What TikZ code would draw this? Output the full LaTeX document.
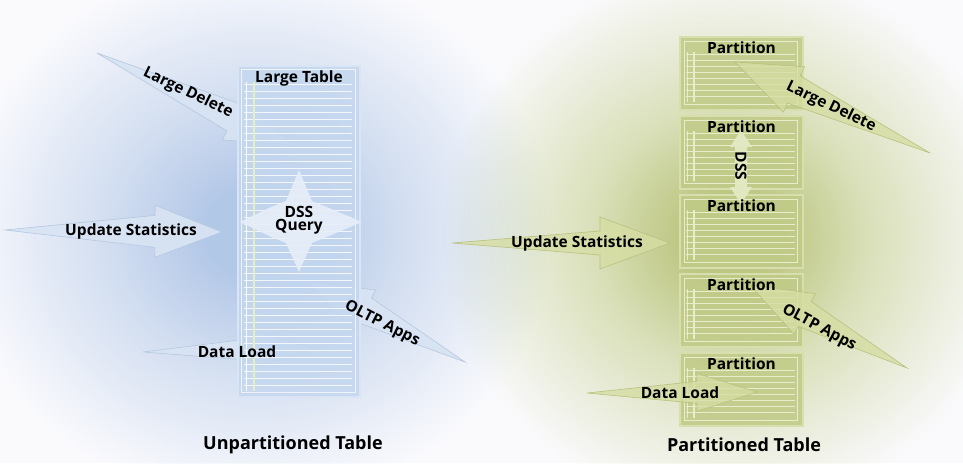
\documentclass[tikz,border=0pt]{standalone}
\usepackage{fontspec}
\setmainfont{Open Sans}
\usetikzlibrary{calc}
\definecolor{gbA}{HTML}{B6CCE9}
\definecolor{gbB}{HTML}{D6E2F2}
\definecolor{ggA}{HTML}{C1CB84}
\definecolor{ggB}{HTML}{DFE5BC}
\definecolor{bgC}{HTML}{FAFAFD}
\definecolor{tblfill}{HTML}{C4D7EF}
\definecolor{tblframe}{HTML}{D9E5F5}
\definecolor{tblyel}{HTML}{E8EEC2}
\definecolor{arrB}{HTML}{D8E4F3}
\definecolor{arrBd}{HTML}{B4C8E0}
\definecolor{starB}{HTML}{E6EEF8}
\definecolor{partfill}{HTML}{C1CB88}
\definecolor{partframe}{HTML}{D8DFAE}
\definecolor{partline}{HTML}{E8ECCB}
\definecolor{arrG}{HTML}{D6DDA3}
\definecolor{arrGd}{HTML}{B8C27E}
\definecolor{dssG}{HTML}{E3E9C3}
\pgfdeclareradialshading{glowblue}{\pgfpoint{0bp}{0bp}}{color(0bp)=(gbA); color(4bp)=(gbA); color(12bp)=(gbB); color(25bp)=(white); color(50bp)=(white)}
\pgfdeclareradialshading{glowgreen}{\pgfpoint{0bp}{0bp}}{color(0bp)=(ggA); color(4bp)=(ggA); color(12bp)=(ggB); color(25bp)=(white); color(50bp)=(white)}
\newcommand\dartpoly[6]{%
  \coordinate (dB) at ($(#2)!#3!(#1)$);
  \filldraw[#6] (#1) -- ($(dB)!#4!90:(#2)$) -- ($(dB)!#5!90:(#2)$) -- (#2)
    -- ($(dB)!#5!-90:(#2)$) -- ($(dB)!#4!-90:(#2)$) -- cycle;
}
\newcommand\partlines[1]{%
  \begin{scope}[shift={(#1.north west)}]
    \draw[partline, line width=0.8pt] (5,5) rectangle (118,68);
    \foreach \yy in {18,24,...,62} \draw[partline, line width=0.9pt] (7,\yy) -- (116,\yy);
    \draw[partline, line width=0.9pt] (8,16) -- (8,66);
    \draw[partline, line width=1.4pt] (15,16) -- (15,66);
  \end{scope}
}
\tikzset{
  lbl/.style={font=\bfseries\fontsize{15.5}{16}\selectfont, inner sep=0pt, align=center, text=black},
  capt/.style={font=\bfseries\fontsize{18}{20}\selectfont, inner sep=0pt, text=black},
  bluearrow/.style={fill=arrB, draw=arrBd, line width=0.6pt, fill opacity=0.92},
  greenarrow/.style={fill=arrG, draw=arrGd, line width=0.6pt, fill opacity=0.8},
  tablebox/.style={draw=tblframe, line width=2pt, fill=tblfill, fill opacity=0.85, minimum width=122pt, minimum height=331pt, inner sep=0pt},
  partbox/.style={draw=partframe, line width=2pt, fill=partfill, fill opacity=0.9, minimum width=123pt, minimum height=73pt, inner sep=0pt},
}
\begin{document}
\begin{tikzpicture}[x=1pt, y=-1pt]
\useasboundingbox (0,0) rectangle (963,463);
\clip (0,0) rectangle (963,463);
\fill[bgC] (0,0) rectangle (963,463);
% glows
\begin{scope}[blend mode=multiply]
\shade[shading=glowblue] (255,232) ellipse [x radius=300, y radius=270];
\shade[shading=glowgreen] (730,237) ellipse [x radius=290, y radius=275];
\end{scope}
% coordinates of arrows
\coordinate (ldLT) at (97,53);   \coordinate (ldLP) at (292,145);
\coordinate (usLT) at (5,230);   \coordinate (usLP) at (222,232);
\coordinate (dlLT) at (143,352); \coordinate (dlLP) at (313,348);
\coordinate (olLT) at (465,362); \coordinate (olLP) at (310,282);
\coordinate (ldRT) at (930,153); \coordinate (ldRP) at (735,62);
\coordinate (usRT) at (452,243); \coordinate (usRP) at (670,243);
\coordinate (dlRT) at (587,393); \coordinate (dlRP) at (757,392);
\coordinate (olRT) at (907,368); \coordinate (olRP) at (750,285);
% left arrows
\dartpoly{ldLT}{ldLP}{65pt}{15pt}{25pt}{bluearrow}
\dartpoly{usLT}{usLP}{67pt}{16pt}{26pt}{bluearrow}
\dartpoly{dlLT}{dlLP}{60pt}{11pt}{19pt}{bluearrow}
\dartpoly{olLT}{olLP}{62pt}{14pt}{23pt}{bluearrow}
% large table
\node[tablebox] (lt) at (299,231.5) {};
\begin{scope}[shift={(lt.north west)}]
  \draw[white, opacity=0.7, line width=0.8pt] (4,4) rectangle (118,327);
  \foreach \yy in {19,26,...,324} \draw[white, opacity=0.8, line width=0.9pt] (7,\yy) -- (115,\yy);
  \draw[white, line width=0.9pt] (9,17) -- (9,326);
  \draw[tblyel, line width=1.6pt] (17,17) -- (17,326);
\end{scope}
% DSS star
\fill[starB, fill opacity=0.9] (299,170) -- (312,201) -- (329,208) -- (362,222) -- (329,236) -- (312,243)
  -- (299,272) -- (286,243) -- (269,236) -- (240,222) -- (269,208) -- (286,201) -- cycle;
% partitions
\node[partbox] (p1) at (741.5,73.5) {};
\node[partbox] (p2) at (741.5,152.5) {};
\node[partbox] (p3) at (741.5,231.5) {};
\node[partbox] (p4) at (741.5,310.5) {};
\node[partbox] (p5) at (741.5,389.5) {};
\partlines{p1}\partlines{p2}\partlines{p3}\partlines{p4}\partlines{p5}
% right arrows
\dartpoly{ldRT}{ldRP}{65pt}{15pt}{25pt}{greenarrow}
\dartpoly{usRT}{usRP}{70pt}{12pt}{26pt}{greenarrow}
\dartpoly{dlRT}{dlRP}{60pt}{11pt}{19pt}{greenarrow}
\dartpoly{olRT}{olRP}{62pt}{14pt}{23pt}{greenarrow}
% DSS double arrow
\fill[dssG, fill opacity=0.95] (741,130) -- (752,147) -- (747,147) -- (747,187) -- (752,187) -- (741,204)
  -- (730,187) -- (735,187) -- (735,147) -- (730,147) -- cycle;
% labels left
\node[lbl] (ltT) at ($(lt.north)+(0,13)$) {Large Table};
\node[lbl, rotate=-26] (ldLl) at (188,93) {Large Delete};
\node[lbl] (usLl) at (131,231) {Update Statistics};
\node[lbl] (dqL) at (299,220) {DSS\\[-3pt]Query};
\node[lbl, rotate=-27] (olLl) at (382,324) {OLTP Apps};
\node[lbl] (dlLl) at (237,352) {Data Load};
\node[capt] (capL) at (293,445) {Unpartitioned Table};
% labels right
\node[lbl] (p1t) at ($(p1.north)+(0,12)$) {Partition};
\node[lbl] (p2t) at ($(p2.north)+(0,12)$) {Partition};
\node[lbl] (p3t) at ($(p3.north)+(0,12)$) {Partition};
\node[lbl] (p4t) at ($(p4.north)+(0,12)$) {Partition};
\node[lbl] (p5t) at ($(p5.north)+(0,12)$) {Partition};
\node[lbl, rotate=-26] (ldRl) at (831,107) {Large Delete};
\node[lbl] (usRl) at (577,243) {Update Statistics};
\node[lbl, rotate=-90] (dssR) at (741,166) {DSS};
\node[lbl, rotate=-28] (olRl) at (819,328) {OLTP Apps};
\node[lbl] (dlRl) at (680,393) {Data Load};
\node[capt] (capR) at (744,445) {Partitioned Table};
\end{tikzpicture}
\end{document}
